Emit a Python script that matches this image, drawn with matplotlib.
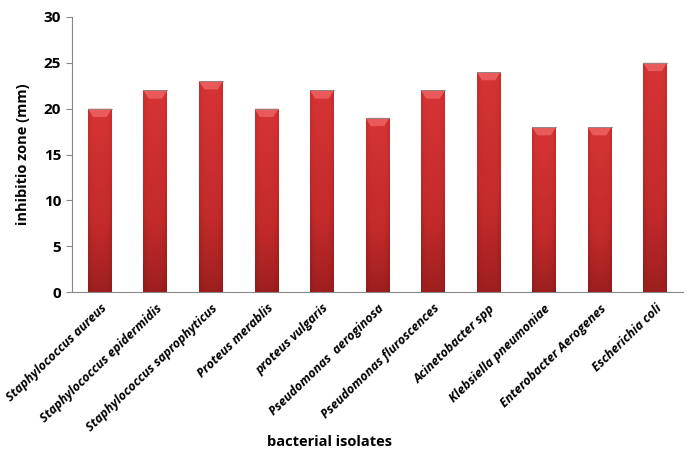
import numpy as np
import matplotlib
matplotlib.use("Agg")
import matplotlib.pyplot as plt
from matplotlib.patches import Polygon
from matplotlib.colors import LinearSegmentedColormap

# inhibition zone per isolate
isolates = [
    "Staphylococcus aureus", "Staphylococcus epidermidis",
    "Staphylococcus saprophyticus", "Proteus merablis", "proteus vulgaris",
    "Pseudomonas  aeroginosa", "Pseudomonas fluroscences", "Acinetobacter spp",
    "Klebsiella pneumoniae", "Enterobacter Aerogenes", "Escherichia coli",
]
zone_mm = [20, 22, 23, 20, 22, 19, 22, 24, 18, 18, 25]
yticks = [0, 5, 10, 15, 20, 25, 30]

plt.rcParams['font.family'] = ['Open Sans', 'DejaVu Sans']

fig = plt.figure(figsize=(6.87, 4.58), dpi=100)
ax = fig.add_axes([0.105, 0.362, 0.889, 0.601])

x = np.arange(len(isolates))
w = 0.43
bars = ax.bar(x, zone_mm, width=w, color="#b82525", zorder=2)

red = LinearSegmentedColormap.from_list("red", ["#7a1414", "#c22a2a", "#d63434"])
# shading: darker toward bottom and at the sides
gx = np.linspace(-1, 1, 40)
gy = np.linspace(0, 1, 100)[:, None]
shade = (0.25 + 0.75 * gy) * (1 - 0.35 * gx[None, :] ** 4)

bevel_h = 0.9
for b, v in zip(bars, zone_mm):
    x0 = b.get_x()
    im = ax.imshow(shade, cmap=red, vmin=0, vmax=1, origin="lower", aspect="auto",
                   extent=(x0, x0 + w, 0, v), zorder=3, interpolation="bilinear")
    im.set_clip_path(b)
    inset = w * 0.22
    top = Polygon([(x0, v), (x0 + w, v), (x0 + w - inset, v - bevel_h),
                   (x0 + inset, v - bevel_h)], closed=True,
                  facecolor="#ea5a5a", edgecolor="none", zorder=4)
    ax.add_patch(top)
    ax.plot([x0, x0 + w], [v, v], color="#8a8a8a", lw=0.6, zorder=5)

ax.set_xlim(-0.5, len(isolates) - 0.5)
ax.set_ylim(0, 30)
ax.set_yticks(yticks)
ax.set_yticklabels([str(t) for t in yticks], fontsize=11, fontweight="bold")
ax.set_xticks(x)
ax.set_xticklabels(isolates, rotation=44, ha="right", rotation_mode="anchor",
                   fontsize=9, fontweight="bold", fontstyle="italic")
ax.tick_params(axis="x", length=0, pad=7)
ax.tick_params(axis="y", length=4, color="#888888", pad=4)

for s in ["top", "right"]:
    ax.spines[s].set_visible(False)
for s in ["left", "bottom"]:
    ax.spines[s].set_color("#888888")
    ax.spines[s].set_linewidth(0.8)

ax.set_ylabel("inhibitio zone (mm)", fontsize=10.5, fontweight="bold", labelpad=10)
fig.text(0.48, 0.035, "bacterial isolates", fontsize=10.5, fontweight="bold",
         ha="center", va="center")

fig.savefig("out.png", dpi=100)
